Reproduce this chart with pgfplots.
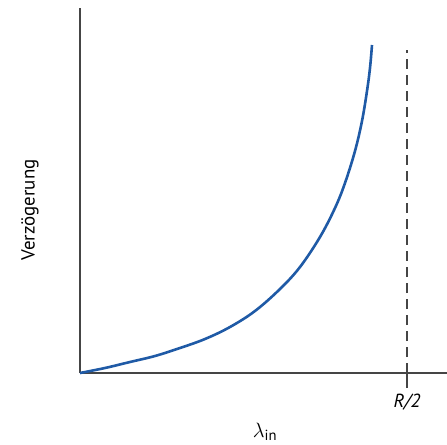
\documentclass[border=0pt]{standalone}
\usepackage{pgfplots}
\pgfplotsset{compat=1.18}
\usepackage{fontspec}
\setmainfont{PT Sans}
\definecolor{curve}{HTML}{1F5AA6}
\definecolor{spine}{HTML}{454545}
\begin{document}
\begin{tikzpicture}
\useasboundingbox (-80bp,-72bp) rectangle (367bp,373bp);
\begin{axis}[
  scale only axis,
  width=367bp, height=365bp,
  xmin=0, xmax=367, ymin=0, ymax=365,
  axis lines=left,
  axis line style={spine, line width=1.6bp, -},
  ytick=\empty,
  xtick={327},
  xticklabels={\textit{R/2}},
  xtick style={spine, line width=1.4bp},
  tick align=outside,
  major tick length=15bp,
  xticklabel style={font=\fontsize{19}{22}\selectfont, yshift=-2bp},
  xlabel={$\lambda$\textsubscript{in}},
  ylabel={Verzögerung},
  every axis x label/.style={at={(axis description cs:0.504,-0.162)}, anchor=center, font=\fontsize{21}{24}\selectfont},
  every axis y label/.style={at={(axis description cs:-0.136,0.447)}, rotate=90, anchor=center, font=\fontsize{19}{22}\selectfont},
  clip=false,
]
\addplot[curve, line width=2.6bp, smooth, tension=0.6] coordinates {
(0,0) (25,5) (50,11) (75,17) (100,25) (125,34) (150,46) (175,62) (200,84) (220,106) (240,136) (255,165) (265,190) (275,222) (282,252) (287,282) (290,305) (292,328)
};
\addplot[spine, line width=1.4bp, dash pattern=on 10bp off 6bp] coordinates {(327,0) (327,323)};
\end{axis}
\end{tikzpicture}
\end{document}
